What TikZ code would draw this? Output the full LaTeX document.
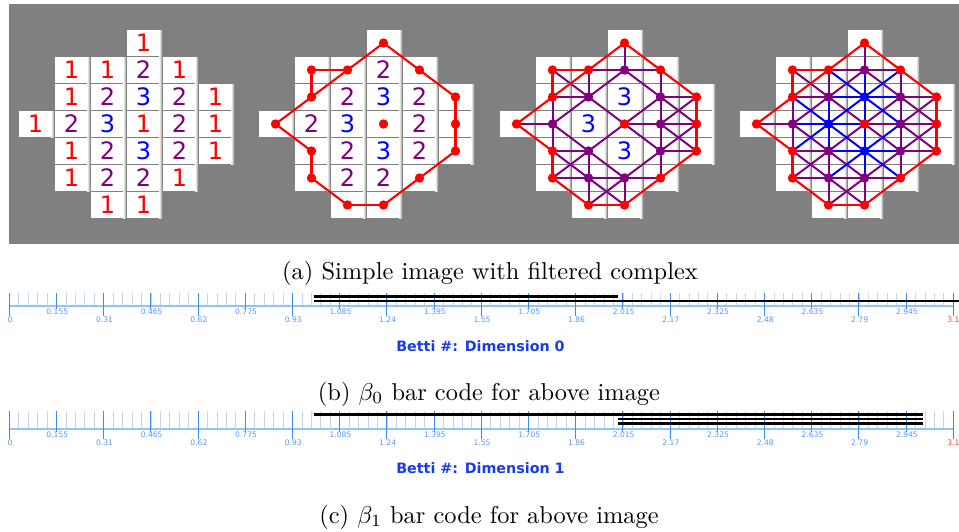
\documentclass[tikz,border=0pt]{standalone}
\usepackage{graphicx}
\usepackage{fontspec}
\newfontfamily\cellfont{DejaVu Sans}
\newfontfamily\tickfont{DejaVu Sans}

\definecolor{bggray}{RGB}{128,128,128}
\definecolor{vc1}{RGB}{255,0,0}
\definecolor{vc2}{RGB}{128,0,128}
\definecolor{vc3}{RGB}{0,0,255}
\definecolor{axisblue}{RGB}{150,195,245}
\definecolor{majblue}{RGB}{60,140,240}
\definecolor{minblue}{RGB}{195,214,236}
\definecolor{lblblue}{RGB}{90,150,245}
\definecolor{titleblue}{RGB}{25,60,235}
\definecolor{endred}{RGB}{240,70,60}

% pixel values of the 6x7 image: column/row/value
\def\cells{3/0/1,
  1/1/1, 2/1/1, 3/1/2, 4/1/1,
  1/2/1, 2/2/2, 3/2/3, 4/2/2, 5/2/1,
  0/3/1, 1/3/2, 2/3/3, 3/3/1, 4/3/2, 5/3/1,
  1/4/1, 2/4/2, 3/4/3, 4/4/2, 5/4/1,
  1/5/1, 2/5/2, 3/5/2, 4/5/1,
  2/6/1, 3/6/1}
\def\getcell#1#2#3{\ifcsname cv-#1-#2\endcsname\edef#3{\csname cv-#1-#2\endcsname}\else\def#3{0}\fi}

% edges of the 8-neighbour complex whose filtration value is #2, in panel #1
\newcommand\edgelayer[3]{%
  \foreach \c/\r/\va in \cells {%
    \foreach \dc/\dr in {1/0,0/1,1/1,1/-1} {%
      \pgfmathtruncatemacro\cc{\c+\dc}%
      \pgfmathtruncatemacro\rr{\r+\dr}%
      \getcell{\cc}{\rr}{\vb}%
      \ifnum\vb>0\relax
        \pgfmathtruncatemacro\mx{max(\va,\vb)}%
        \ifnum\mx=#2\relax
          \draw[#3] (P#1-\c-\r) -- (P#1-\cc-\rr);
        \fi
      \fi
    }%
  }%
}

% ruler of a bar code: #1 name, #2 top of ticks, #3 axis line
\newcommand\ruler[3]{%
  \foreach \i in {0,...,99} {\draw[minortick] (9.3+9.44*\i,#2) -- (9.3+9.44*\i,#3);}
  \draw[axisline] (9.3,#3) -- (953.3,#3);
  \foreach \j/\lab in {0/0,1/0.155,2/0.31,3/0.465,4/0.62,5/0.775,6/0.93,7/1.085,
      8/1.24,9/1.395,10/1.55,11/1.705,12/1.86,13/2.015,14/2.17,15/2.325,16/2.48,
      17/2.635,18/2.79,19/2.945} {%
    \ifodd\j\relax
      \draw[majortick] (9.3+47.2*\j,#2) -- (9.3+47.2*\j,#3+2.5);
      \node[ticklabel] (#1-\j) at (10.1+47.2*\j,#3+5.6) {\lab};
    \else
      \draw[majortick] (9.3+47.2*\j,#2) -- (9.3+47.2*\j,#3+10.3);
      \node[ticklabel] (#1-\j) at (10.1+47.2*\j,#3+13.6) {\lab};
    \fi
  }
  \draw[majortick,endred] (953.3,#2) -- (953.3,#3+10.3);
  \node[ticklabel,text=endred] (#1-20) at (953.3,#3+13.6) {3.1};
}

\begin{document}
\begin{tikzpicture}[x=1pt,y=-1pt,
  num/.style={font=\cellfont\fontsize{24}{24}\selectfont, inner sep=0pt},
  dot/.style={circle, inner sep=0pt, minimum size=9.4pt},
  e1/.style={draw=vc1, line width=2.1pt},
  e2/.style={draw=vc2, line width=2pt},
  e3/.style={draw=vc3, line width=2pt},
  minortick/.style={draw=minblue, line width=0.8pt},
  majortick/.style={draw=majblue, line width=0.9pt},
  axisline/.style={draw=axisblue, line width=1.5pt},
  ticklabel/.style={font=\tickfont\fontsize{7.6}{8}\selectfont, text=lblblue, inner sep=0pt},
  bettititle/.style={font=\tickfont\bfseries\fontsize{14.3}{16}\selectfont, text=titleblue, inner sep=0pt},
  caption/.style={anchor=base, inner sep=0pt},
  barline/.style={draw=black, line width=2.5pt}]
\useasboundingbox (0,0) rectangle (959,531);
\fill[white] (0,0) rectangle (959,531);
\fill[bggray] (9,4) rectangle (959,244);

\foreach \c/\r/\v in \cells {\expandafter\xdef\csname cv-\c-\r\endcsname{\v}}

% four copies of the image
\foreach \P/\ox in {1/0,2/240,3/481,4/721} {
  \foreach \c/\r/\v in \cells {
    \fill[white] (19+\ox+36*\c,30+27*\r) rectangle +(32,26);
    \shade[left color=white, right color=gray!75] (51+\ox+36*\c,30+27*\r) rectangle +(3,26);
    \coordinate (P\P-\c-\r) at (35.5+\ox+36*\c,43+27*\r);
  }
}

% panel 1: pixel values
\foreach \c/\r/\v in \cells {\node[num, text=vc\v] (N1-\c-\r) at (P1-\c-\r) {\v};}

% panel 2: filtration value 1
\edgelayer{2}{1}{e1}
\foreach \c/\r/\v in \cells {
  \ifnum\v=1\relax \node[dot, fill=vc1] (D2-\c-\r) at (P2-\c-\r) {};
  \else \node[num, text=vc\v] (N2-\c-\r) at (P2-\c-\r) {\v}; \fi
}

% panel 3: filtration value 2
\edgelayer{3}{2}{e2}
\edgelayer{3}{1}{e1}
\foreach \c/\r/\v in \cells {
  \ifnum\v<3\relax \node[dot, fill=vc\v] (D3-\c-\r) at (P3-\c-\r) {};
  \else \node[num, text=vc\v] (N3-\c-\r) at (P3-\c-\r) {\v}; \fi
}

% panel 4: filtration value 3
\edgelayer{4}{2}{e2}
\edgelayer{4}{3}{e3}
\edgelayer{4}{1}{e1}
\foreach \c/\r/\v in \cells {\node[dot, fill=vc\v] (D4-\c-\r) at (P4-\c-\r) {};}

\node[caption] (capA) at (490,279) {\scalebox{2.44}{(a) Simple image with filtered complex}};

% beta_0 bar code
\ruler{B}{293.3}{306}
\draw[barline] (313.8,296.5) -- (618.3,296.5);
\draw[barline] (313.8,301) -- (959,301);
\node[bettititle] (titleB) at (480.5,346.5) {Betti \#: Dimension 0};
\node[caption] (capB) at (489,400) {\scalebox{2.44}{(b) $\beta_0$ bar code for above image}};

% beta_1 bar code
\ruler{C}{411}{429}
\draw[barline] (313.8,414.3) -- (922.8,414.3);
\draw[barline] (618.3,419) -- (922.8,419);
\draw[barline] (618.3,423.7) -- (922.8,423.7);
\node[bettititle] (titleC) at (480.5,468) {Betti \#: Dimension 1};
\node[caption] (capC) at (489,523) {\scalebox{2.44}{(c) $\beta_1$ bar code for above image}};
\end{tikzpicture}
\end{document}
